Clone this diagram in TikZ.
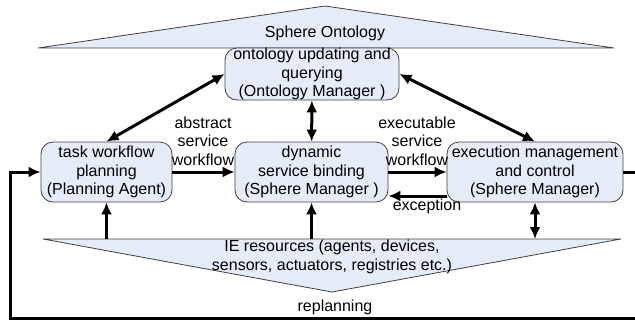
\documentclass[tikz,border=0pt]{standalone}
\usepackage{fontspec}
\setmainfont{Liberation Sans}
\usepackage{tikz}
\usetikzlibrary{arrows.meta}

\definecolor{boxfill}{RGB}{230,236,247}
\definecolor{boxline}{RGB}{64,64,64}

\tikzset{
  box/.style={draw=boxline, fill=boxfill, rounded corners=12pt, line width=0.8pt,
    align=center, inner sep=0pt, font=\fontsize{16}{18.5}\selectfont},
  tri/.style={draw=boxline, fill=boxfill, line width=0.8pt},
  lbl/.style={align=center, inner sep=0pt, font=\fontsize{16}{18.5}\selectfont},
  arr/.style={line width=3pt, -{Latex[length=12pt,width=11pt]}},
  darr/.style={line width=3pt, {Latex[length=12pt,width=11pt]}-{Latex[length=12pt,width=11pt]}}
}

\begin{document}
\begin{tikzpicture}[x=1pt,y=-1pt]
        \useasboundingbox (0,0) rectangle (635,322);

        % ontology on top
        \draw [tri] (38,48) -- (325,6) -- (614,48) -- cycle;
        \node (sphere) [lbl] at (325,33) {Sphere Ontology};

        % resources at the bottom
        \draw [tri] (43,239) -- (621,239) -- (332,292) -- cycle;
        \coordinate (resbase) at (332,239);
        \node (res) [lbl] at (332,257) {IE resources (agents, devices,\\sensors, actuators, registries etc.)};

        \node (onto) [box, minimum width=174pt, minimum height=52pt] at (312,74) {ontology updating and\\querying\\(Ontology Manager )};
        \node (plan) [box, minimum width=131pt, minimum height=60pt] at (106.5,172) {task workflow\\planning\\(Planning Agent)};
        \node (bind) [box, minimum width=153pt, minimum height=60pt] at (311.5,172) {dynamic\\service binding\\(Sphere Manager )};
        \node (exec) [box, minimum width=176pt, minimum height=60pt] at (535,172) {execution management\\and control\\(Sphere Manager)};

        \node (abs) [lbl] at (203,141) {abstract\\service\\workflow};
        \node (exe) [lbl] at (417,141) {executable\\service\\workflow};
        \node (exc) [lbl] at (427,206) {exception};
        \node (repl) [lbl] at (335,307) {replanning};

        \draw [darr] (onto.west) -- (plan.north);
        \draw [darr] (onto) -- (bind);
        \draw [darr] (onto.east) -- (exec.north);

        \draw [arr] (plan) -- (bind);
        \draw [arr] (bind) -- (exec);
        \draw [arr] ([yshift=-24pt]exec.west) -- ([yshift=-24pt]bind.east);

        \draw [arr] (plan |- resbase) -- (plan);
        \draw [arr] (bind |- resbase) -- (bind);
        \draw [darr] (exec) -- (exec |- resbase);

        % replanning loop
        \coordinate (rpright) at (645,318);
        \coordinate (rpleft) at (10,318);
        \draw [arr] (exec.east) -| (rpright) -- (rpleft) |- (plan.west);
    \end{tikzpicture}
\end{document}
